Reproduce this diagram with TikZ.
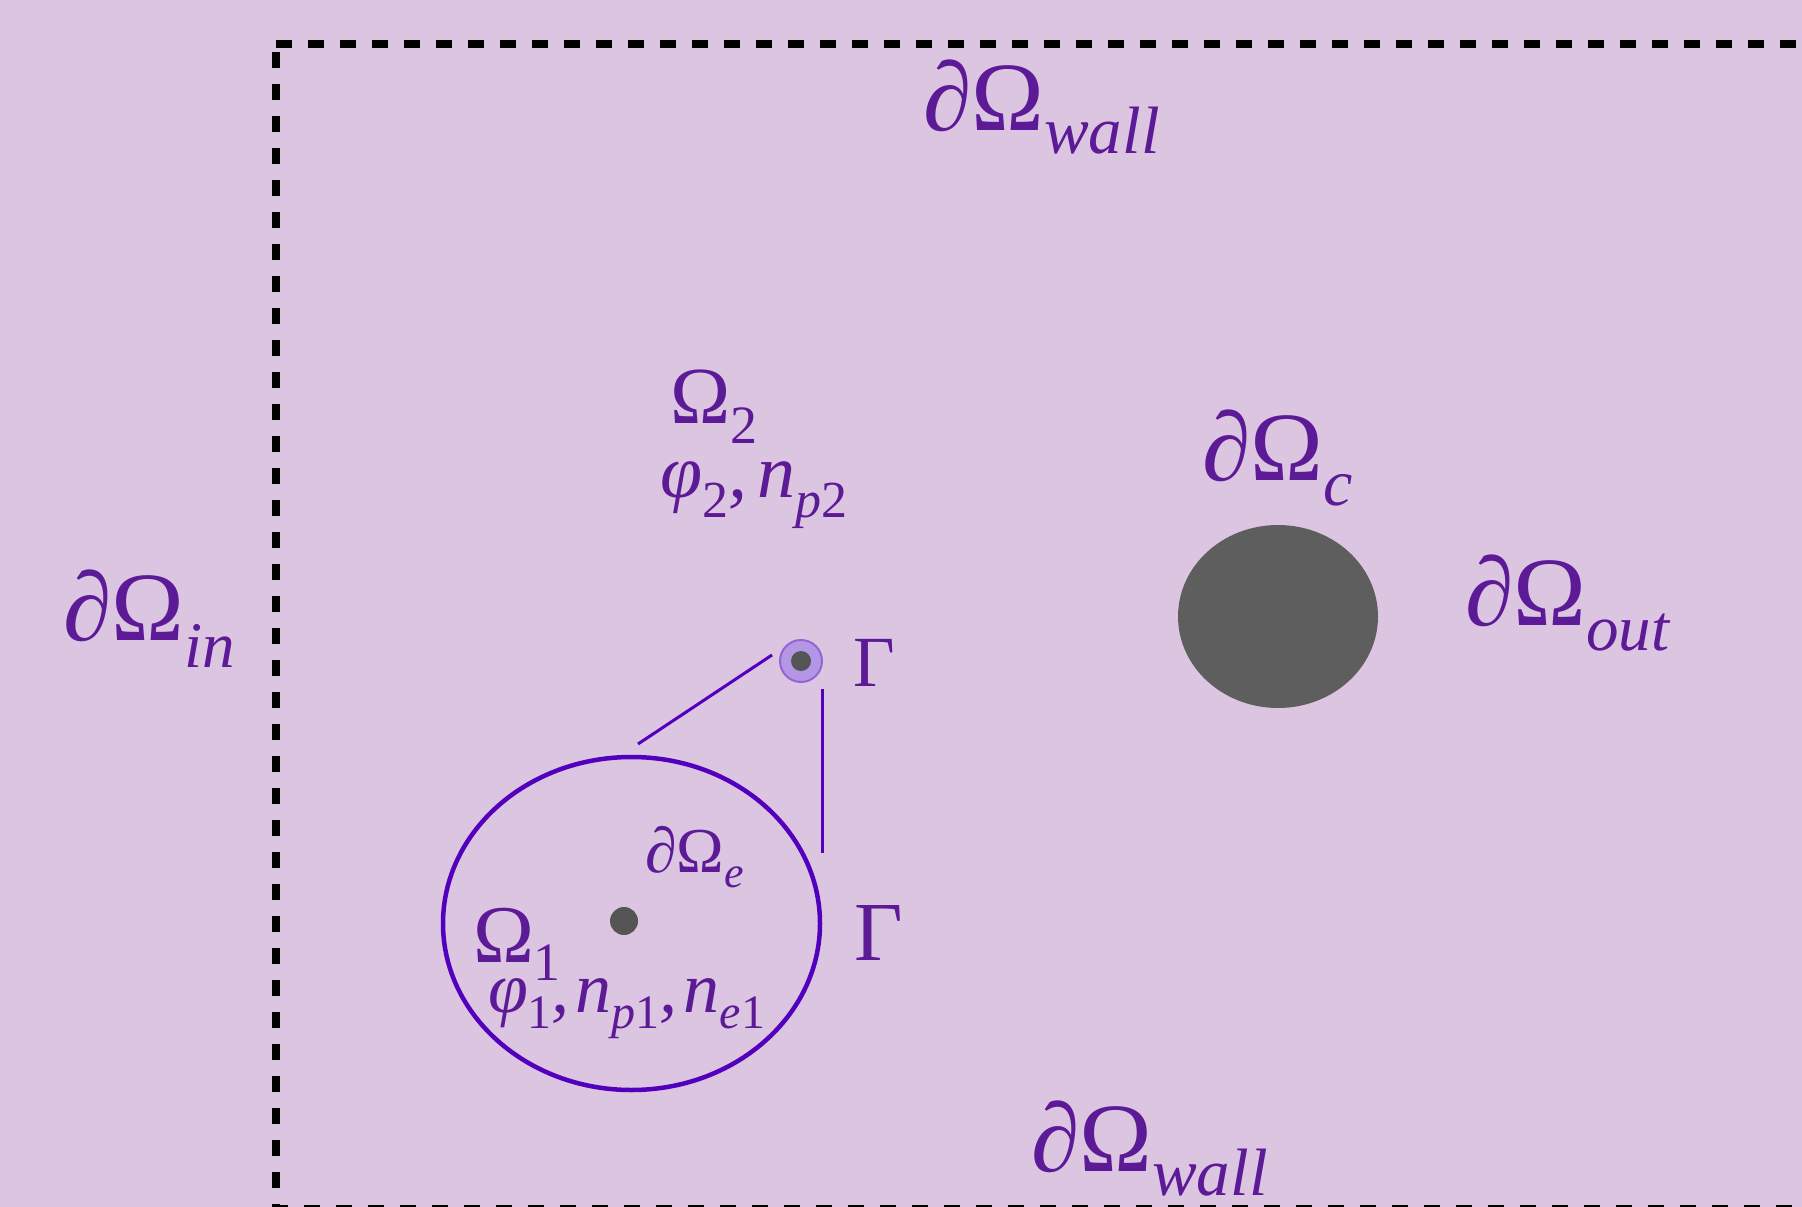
\documentclass[tikz,border=0pt]{standalone}
\usepackage{fontspec}
\setmainfont{Liberation Serif}
\usetikzlibrary{shapes.geometric}
\definecolor{bg}{RGB}{220,197,225}
\definecolor{txt}{RGB}{92,26,150}
\definecolor{vio}{RGB}{82,0,190}
\definecolor{blob}{RGB}{94,94,94}
\definecolor{dotc}{RGB}{85,85,85}
\definecolor{ring}{RGB}{150,100,210}
\definecolor{ringfill}{RGB}{180,150,230}
\newcommand{\fs}[1]{\fontsize{#1pt}{#1pt}\selectfont}
\begin{document}
\begin{tikzpicture}[x=1pt,y=-1pt,
 lab/.style={anchor=base west, inner sep=0pt, outer sep=0pt, text=txt},
 bound/.style={line width=8pt, dash pattern=on 16pt off 16pt},
 conn/.style={draw=vio, line width=3pt}]
\fill[bg] (0,0) rectangle (1802,1207);
\useasboundingbox (0,0) rectangle (1802,1207);
\clip (0,0) rectangle (1802,1207);
% dashed boundary
\coordinate (tl) at (276,44);
\coordinate (tr) at (1810,44);
\coordinate (lt) at (276,52);
\coordinate (lb) at (276,1215);
\coordinate (bl) at (272,1209);
\coordinate (br) at (1810,1209);
\draw[bound] (tl) -- (tr);
\draw[bound] (lt) -- (lb);
\draw[bound] (bl) -- (br);
% shapes
\node[ellipse, draw=vio, line width=4.5pt, minimum width=377pt, minimum height=333pt, inner sep=0pt] (om1) at (631.5,923.5) {};
\node[circle, fill=dotc, minimum size=28pt, inner sep=0pt] (src) at (624,921) {};
\node[ellipse, fill=blob, minimum width=200pt, minimum height=183pt, inner sep=0pt] (cyl) at (1278,616.5) {};
\node[circle, fill=ringfill, draw=ring, line width=2pt, minimum size=42pt, inner sep=0pt] (pc) at (801,661) {};
\node[circle, fill=dotc, minimum size=20pt, inner sep=0pt] (pcin) at (pc) {};
% connectors
\coordinate (la) at (638,744);
\coordinate (lbb) at (772,655);
\draw[conn] (la) -- (lbb);
\coordinate (va) at (822,689);
\coordinate (vb) at (822,853);
\draw[conn] (va) -- (vb);
% labels
\node[lab] (wtop) at (923,130) {\fs{98}∂Ω\raisebox{-23pt}{\fs{67}\itshape wall}};
\node[lab] (wbot) at (1031,1171) {\fs{98}∂Ω\raisebox{-24pt}{\fs{67}\itshape wall}};
\node[lab] (win) at (63,640) {\fs{98}∂Ω\raisebox{-27pt}{\fs{65}\itshape in}};
\node[lab] (wc) at (1202,480) {\fs{98}∂Ω\raisebox{-25pt}{\fs{66}\itshape c}};
\node[lab] (wout) at (1465,625) {\fs{98}∂Ω\raisebox{-25pt}{\fs{65}\itshape out}};
\node[lab] (om2) at (670,423) {\fs{81}Ω\raisebox{-20pt}{\fs{54}2}};
\node[lab] (v2) at (660,497) {\fs{76}\itshape φ\raisebox{-20pt}{\fs{52}\upshape 2},\hspace{10pt}n\raisebox{-20pt}{\fs{52}p\upshape 2}};
\node[lab] (om1l) at (473,962) {\fs{82}Ω\raisebox{-18pt}{\fs{54}1}};
\node[lab] (v1) at (488,1012) {\fs{72}\itshape φ\raisebox{-16pt}{\fs{48}\upshape 1},\hspace{6pt}n\raisebox{-16pt}{\fs{48}p\upshape 1},\hspace{6pt}n\raisebox{-16pt}{\fs{48}e\upshape 1}};
\node[lab] (we) at (645,872) {\fs{64}∂Ω\raisebox{-15pt}{\fs{44}\itshape e}};
\node[lab] (g1) at (853,686) {\fs{72}Γ};
\node[lab] (g2) at (854,960) {\fs{84}Γ};
\end{tikzpicture}
\end{document}
